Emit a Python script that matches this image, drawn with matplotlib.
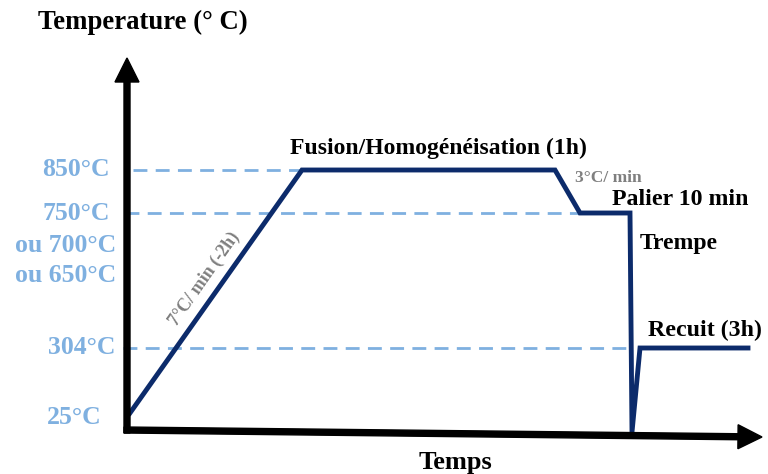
import matplotlib.pyplot as plt
import numpy as np

plt.rcParams['font.family'] = ['Liberation Serif', 'DejaVu Serif']
plt.rcParams['font.weight'] = 'bold'

# heat-treatment profile (schematic time units, temperature in degC)
time = [0.0, 1.72, 4.25, 4.50, 5.00, 5.02, 5.10, 6.18]
temp = [25, 850, 850, 750, 750, 0, 304, 304]

# schematic (non linear) temperature scale of the drawing
scale_temp = [0, 25, 304, 750, 850]
scale_pos = [0.0, 0.19, 0.84, 2.19, 2.62]

def ypos(t):
    return np.interp(t, scale_temp, scale_pos)

# guide lines: temperature level and where the dashes end
guide_temp = [850, 750, 304]
guide_start = [0.03, -0.05, -0.07]
guide_end = [1.72, 4.50, 5.02]

# temperature labels on the left
label_text = ['850°C', '750°C', 'ou 700°C', 'ou 650°C', '304°C', '25°C']
label_pos = [2.62, 2.19, 1.87, 1.56, 0.84, 0.15]
label_x = [-0.20, -0.20, -0.14, -0.14, -0.15, -0.29]

navy = '#0c2b6b'
light_blue = '#7fb0e0'
grey = '#7f7f7f'

fig = plt.figure(figsize=(7.68, 4.74), dpi=100)
ax = fig.add_axes([0, 0, 1, 1])
ax.set_xlim(-1.30, 6.38)
ax.set_ylim(-0.42, 4.32)
ax.axis('off')

# axes drawn as arrows
ax.arrow(-0.03, -0.01, 0, 3.75, width=0.06, head_width=0.24, head_length=0.24,
         length_includes_head=True, color='black', zorder=3)
ax.arrow(-0.06, 0.02, 6.38, -0.07, width=0.06, head_width=0.24, head_length=0.24,
         length_includes_head=True, color='black', zorder=3)

for t, x0, x1 in zip(guide_temp, guide_start, guide_end):
    y = ypos(t)
    ax.plot([x0, x1], [y, y], color=light_blue, lw=2, dashes=(5, 3), zorder=1)

ax.plot(time, ypos(temp), color=navy, lw=3.5, solid_joinstyle='miter', zorder=2)

for s, y, x in zip(label_text, label_pos, label_x):
    ax.text(x, y, s, color=light_blue, fontsize=18.5, ha='right', va='center')

ax.text(-0.92, 4.10, 'Temperature (° C)', fontsize=19.3, ha='left', va='center')
ax.text(3.25, -0.30, 'Temps', fontsize=19, ha='center', va='center')
ax.text(1.60, 2.84, 'Fusion/Homogénéisation (1h)', fontsize=17, ha='left', va='center')
ax.text(4.45, 2.54, '3°C/ min', fontsize=12.5, color=grey, ha='left', va='center')
ax.text(4.82, 2.33, 'Palier 10 min', fontsize=17.2, ha='left', va='center')
ax.text(5.10, 1.89, 'Trempe', fontsize=17, ha='left', va='center')
ax.text(5.18, 1.02, 'Recuit (3h)', fontsize=17.2, ha='left', va='center')
ax.text(0.74, 1.53, '7°C/ min (-2h)', fontsize=13, color=grey, rotation=55,
        ha='center', va='center', rotation_mode='anchor')

fig.savefig('out.png', dpi=100)
